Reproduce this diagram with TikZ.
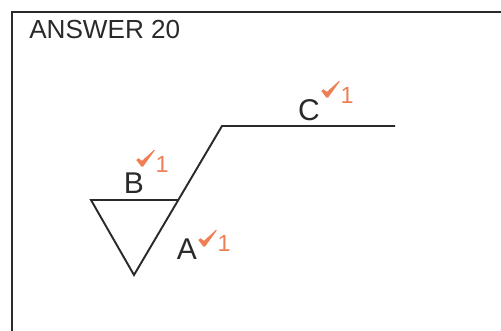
\documentclass[tikz,border=0pt]{standalone}
\usepackage{fontspec}
\setmainfont{Liberation Sans}
\definecolor{ink}{HTML}{2A2A2A}
\definecolor{tick}{HTML}{EE7F55}
\tikzset{
 x=0.75pt,y=-0.75pt,
 frameline/.style={draw=ink,line width=1pt},
 shapeline/.style={draw=ink,line width=1.45pt,line join=miter},
 letter/.style={text=ink,font=\fontsize{22.5}{24}\selectfont,inner sep=0pt},
 title/.style={text=ink,font=\fontsize{19.6}{22}\selectfont,inner sep=0pt,anchor=west},
 one/.style={text=tick,font=\fontsize{17.5}{18}\selectfont,inner sep=0pt},
 tickmark/.style={fill=tick,draw=tick,line width=0.1pt,line join=round}
}
\newcommand{\tickat}[2]{\path[tickmark] (#1-0.5,#2-1) -- (#1+1.5,#2-2.5) -- (#1+5,#2) -- (#1+17,#2-11) -- (#1+17.5,#2-10.5) -- (#1+6,#2+5.5) -- (#1+4.5,#2+5.5) -- cycle;}
\begin{document}
\begin{tikzpicture}
\useasboundingbox (0,0) rectangle (501,331);
\draw[frameline] (12,331) -- (12,12) -- (501,12);
\node[title] (t) at (29,30) {ANSWER 20};
\coordinate (p1) at (91,200);
\coordinate (p2) at (178,200);
\coordinate (p3) at (134,275);
\coordinate (p4) at (222,126);
\coordinate (p5) at (395,126);
\draw[shapeline] (p2) -- (p1) -- (p3) -- (p4) -- (p5);
\node[letter] (la) at (187,249) {A};
\node[letter] (lb) at (134,183) {B};
\node[letter] (lc) at (309,110) {C};
\tickat{199}{241}
\node[one] (oa) at (224,243) {1};
\tickat{137}{161}
\node[one] (ob) at (162,164) {1};
\tickat{322}{92}
\node[one] (oc) at (347,95) {1};
\end{tikzpicture}
\end{document}
